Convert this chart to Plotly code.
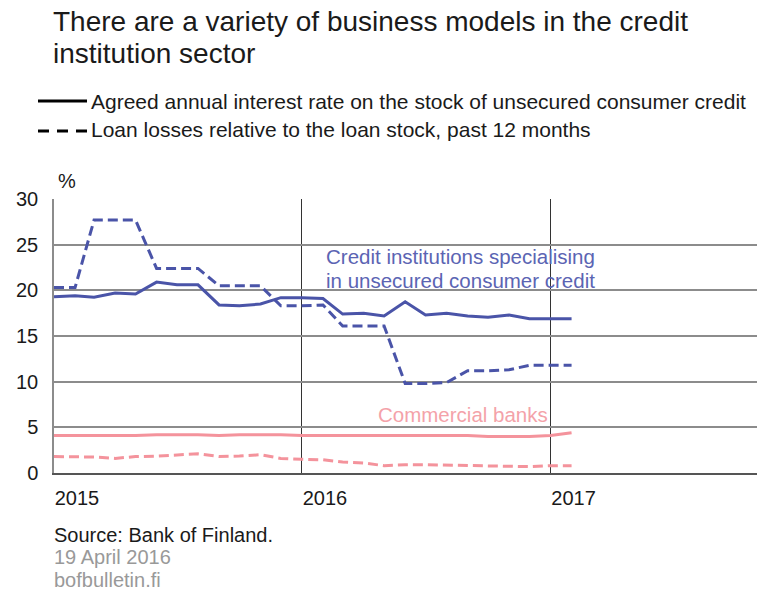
import plotly.graph_objects as go
import pandas as pd

# Monthly observations, January 2015 onwards
months = pd.date_range("2015-01-01", periods=26, freq="MS")

specialised_rate = [19.3, 19.4, 19.25, 19.7, 19.6, 20.9, 20.6, 20.6, 18.4, 18.3,
                    18.5, 19.2, 19.2, 19.1, 17.4, 17.5, 17.2, 18.75, 17.3, 17.5,
                    17.2, 17.05, 17.3, 16.9, 16.9, 16.9]
specialised_losses = [20.3, 20.3, 27.7, 27.7, 27.7, 22.4, 22.4, 22.4, 20.5, 20.5,
                      20.5, 18.3, 18.3, 18.4, 16.1, 16.1, 16.1, 9.8, 9.8, 9.9,
                      11.2, 11.2, 11.3, 11.8, 11.8, 11.8]
commercial_rate = [4.1, 4.1, 4.1, 4.1, 4.1, 4.2, 4.2, 4.2, 4.1, 4.2,
                   4.2, 4.2, 4.1, 4.1, 4.1, 4.1, 4.1, 4.1, 4.1, 4.1,
                   4.1, 4.0, 4.0, 4.0, 4.1, 4.4]
commercial_losses = [1.8, 1.8, 1.75, 1.6, 1.8, 1.85, 1.95, 2.1, 1.8, 1.85,
                     2.0, 1.6, 1.5, 1.45, 1.2, 1.1, 0.8, 0.9, 0.9, 0.85,
                     0.85, 0.8, 0.75, 0.7, 0.8, 0.8]

y_ticks = [0, 5, 10, 15, 20, 25, 30]
year_ticks = ["2015-01-01", "2016-01-01", "2017-01-01"]
year_labels = ["2015", "2016", "2017"]

BLUE = "#4a54a8"
PINK = "#f4939c"
FONT = "Liberation Sans, Arial, sans-serif"
DARK = "#1a1a1a"
SERIES_DASH = "10px,5px"

W, H = 767, 593
L, R, T, B = 54, 757, 199, 473


def px(x):
    return (x - L) / (R - L)


def py(y):
    return (B - y) / (B - T)


fig = go.Figure()
fig.add_trace(go.Scatter(x=months, y=commercial_losses, mode="lines",
                         line=dict(color=PINK, width=3, dash=SERIES_DASH)))
fig.add_trace(go.Scatter(x=months, y=commercial_rate, mode="lines",
                         line=dict(color=PINK, width=3)))
fig.add_trace(go.Scatter(x=months, y=specialised_losses, mode="lines",
                         line=dict(color=BLUE, width=3, dash=SERIES_DASH)))
fig.add_trace(go.Scatter(x=months, y=specialised_rate, mode="lines",
                         line=dict(color=BLUE, width=3)))


def label(text, x, y, size, color=DARK, xanchor="left"):
    return dict(text=text, x=px(x), y=py(y), xanchor=xanchor, yanchor="middle",
                xref="paper", yref="paper", showarrow=False,
                font=dict(family=FONT, size=size, color=color))


annotations = [
    label("There are a variety of business models in the credit", 51, 21, 28),
    label("institution sector", 51, 53, 28),
    label("Agreed annual interest rate on the stock of unsecured consumer credit", 89, 101, 21),
    label("Loan losses relative to the loan stock, past 12 months", 89, 130, 21),
    label("%", 56, 181, 20),
    label("Credit institutions specialising", 324, 256, 20.5, "#5b64b3"),
    label("in unsecured consumer credit", 324, 280, 20.5, "#5b64b3"),
    label("Commercial banks", 463, 414, 20.5, "#f4a2a9", xanchor="center"),
    label("Source: Bank of Finland.", 52, 535, 20),
    label("19 April 2016", 52, 557, 20, "#999999"),
    label("bofbulletin.fi", 52, 580, 20, "#999999"),
]

# Legend keys drawn beside the legend texts
shapes = [
    dict(type="line", xref="paper", yref="paper", x0=px(38), x1=px(87), y0=py(101), y1=py(101),
         line=dict(color="#000000", width=3)),
    dict(type="line", xref="paper", yref="paper", x0=px(38), x1=px(87), y0=py(131), y1=py(131),
         line=dict(color="#000000", width=3, dash="11px,8px")),
]

fig.update_layout(
    width=W, height=H,
    margin=dict(l=L, r=W - R, t=T, b=H - B, pad=0),
    paper_bgcolor="white", plot_bgcolor="white",
    showlegend=False,
    annotations=annotations,
    shapes=shapes,
    font=dict(family=FONT, size=20, color=DARK),
)
fig.update_xaxes(
    type="date", range=["2015-01-01", "2017-11-01"],
    tickmode="array", tickvals=year_ticks, ticktext=year_labels,
    ticklabelposition="outside right", ticks="", ticklabelstandoff=6,
    showgrid=True, gridcolor="#333333", gridwidth=1,
    showline=True, linecolor="#555555", linewidth=1.5,
    zeroline=False, tickfont=dict(family=FONT, size=20, color=DARK),
)
fig.update_yaxes(
    range=[0, 30], tickmode="array", tickvals=y_ticks,
    showgrid=True, gridcolor="#8c8c8c", gridwidth=1.5,
    showline=True, linecolor="#8c8c8c", linewidth=1.5,
    zeroline=False, ticks="", ticklabelstandoff=10,
    tickfont=dict(family=FONT, size=20, color=DARK),
)

fig.write_html("out.html")
